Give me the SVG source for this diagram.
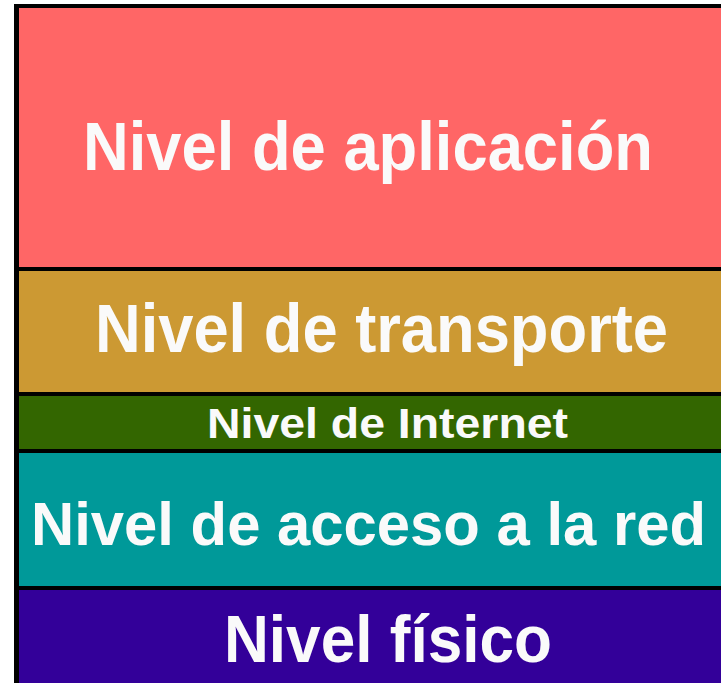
<svg xmlns="http://www.w3.org/2000/svg" width="721" height="683" viewBox="0 0 721 683">
<style>
.t{font-family:"Liberation Sans",Arial,sans-serif;font-weight:bold;fill:#FAFAFA}
</style>
<rect x="0" y="0" width="721" height="683" fill="#FFFFFF"/>
<rect x="14" y="4" width="707" height="679" fill="#000000"/>
<g id="aplicacion">
<rect x="19" y="8" width="702" height="259" fill="#FF6666"/>
<text class="t" x="83" y="170" font-size="68" textLength="570" lengthAdjust="spacingAndGlyphs">Nivel de aplicación</text>
</g>
<g id="transporte">
<rect x="19" y="271" width="702" height="121" fill="#CC9933"/>
<text class="t" x="95" y="352" font-size="68" textLength="573" lengthAdjust="spacingAndGlyphs">Nivel de transporte</text>
</g>
<g id="internet">
<rect x="19" y="396" width="702" height="53" fill="#336600"/>
<text class="t" x="207" y="438" font-size="43" textLength="361" lengthAdjust="spacingAndGlyphs">Nivel de Internet</text>
</g>
<g id="acceso">
<rect x="19" y="453" width="702" height="133" fill="#009999"/>
<text class="t" x="31" y="545" font-size="61" textLength="675" lengthAdjust="spacingAndGlyphs">Nivel de acceso a la red</text>
</g>
<g id="fisico">
<rect x="19" y="590" width="702" height="93" fill="#330099"/>
<text class="t" x="224" y="662" font-size="66" textLength="328" lengthAdjust="spacingAndGlyphs">Nivel físico</text>
</g>
<g id="connectors"></g>
</svg>
